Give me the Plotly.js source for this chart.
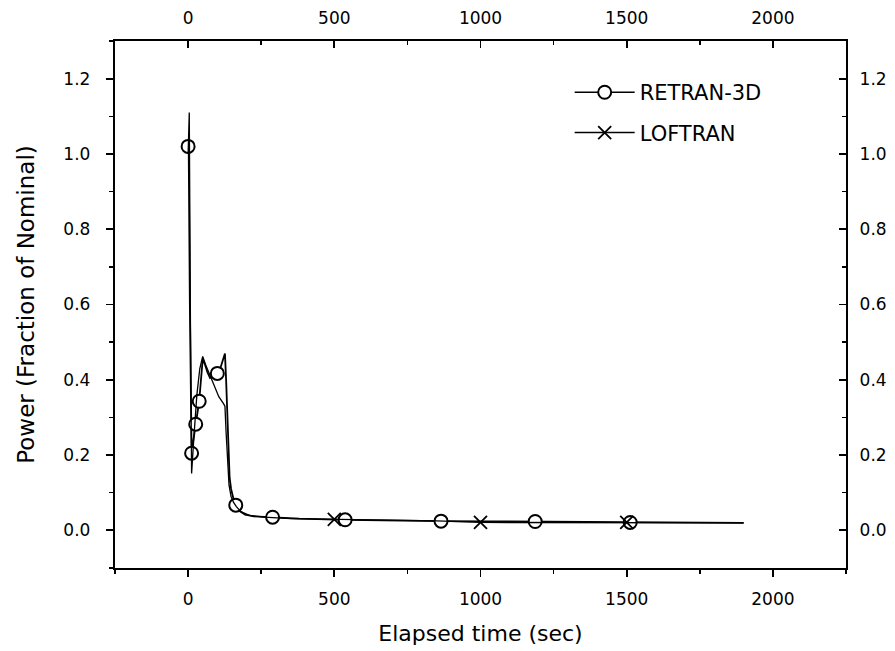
<!DOCTYPE html>
<html>
<head>
<meta charset="utf-8">
<script src="https://cdn.plot.ly/plotly-3.0.1.min.js"></script>
<style>html,body{margin:0;padding:0;background:#fff;}#chart{width:895px;height:651px;}</style>
</head>
<body>
<div id="chart"></div>
<script>
// RETRAN-3D power history (time in s, power as fraction of nominal)
var retranTime  = [0, 2, 6, 10, 12, 18, 26, 32, 38, 44, 50, 58, 66, 75, 85, 100, 110, 118, 126, 130, 134, 138, 142, 147, 152, 157, 163, 175, 195, 225, 260, 289, 380, 537, 700, 865, 1030, 1187, 1350, 1512, 1700, 1900];
var retranPower = [1.02, 1.02, 0.60, 0.25, 0.205, 0.24, 0.282, 0.31, 0.343, 0.40, 0.455, 0.44, 0.42, 0.405, 0.41, 0.417, 0.43, 0.45, 0.47, 0.40, 0.30, 0.20, 0.14, 0.11, 0.09, 0.078, 0.067, 0.052, 0.042, 0.037, 0.036, 0.035, 0.031, 0.028, 0.026, 0.0245, 0.024, 0.0235, 0.022, 0.021, 0.02, 0.02];
var retranMarkerTimes = [0, 12, 26, 38, 100, 163, 289, 537, 865, 1187, 1512];

// LOFTRAN power history
var loftranTime  = [0, 4, 8, 12, 20, 30, 40, 50, 60, 75, 90, 105, 120, 126, 130, 135, 140, 147, 155, 165, 180, 210, 260, 350, 500, 700, 850, 1000, 1200, 1500, 1700, 1900];
var loftranPower = [1.0, 1.11, 0.55, 0.151, 0.25, 0.36, 0.43, 0.462, 0.44, 0.41, 0.38, 0.355, 0.338, 0.33, 0.26, 0.18, 0.12, 0.09, 0.075, 0.063, 0.05, 0.04, 0.035, 0.031, 0.029, 0.027, 0.025, 0.021, 0.021, 0.021, 0.02, 0.02];
var loftranMarkerTimes = [500, 1000, 1500];

var seriesNames = ['RETRAN-3D', 'LOFTRAN'];
var xTickVals = [0, 500, 1000, 1500, 2000];
var yTickVals = [0.0, 0.2, 0.4, 0.6, 0.8, 1.0, 1.2];
var xTitle = 'Elapsed time (sec)';
var yTitle = 'Power (Fraction of Nominal)';

var FONT = 'DejaVu Sans, Arial, sans-serif';

// marker-only points, separated by gaps so no connecting line is drawn in the plot
function markerPoints(times, values, marks) {
  var xs = [], ys = [];
  times.forEach(function (t, i) {
    if (marks.indexOf(t) >= 0) { xs.push(t, null); ys.push(values[i], null); }
  });
  return {x: xs, y: ys};
}
var rm = markerPoints(retranTime, retranPower, retranMarkerTimes);
var lm = markerPoints(loftranTime, loftranPower, loftranMarkerTimes);

var traces = [
  {
    x: retranTime, y: retranPower, name: seriesNames[0], legendgroup: 'a', showlegend: false,
    type: 'scatter', mode: 'lines', xaxis: 'x', yaxis: 'y',
    line: {color: '#000', width: 1.8}
  },
  {
    x: loftranTime, y: loftranPower, name: seriesNames[1], legendgroup: 'b', showlegend: false,
    type: 'scatter', mode: 'lines', xaxis: 'x2', yaxis: 'y2',
    line: {color: '#000', width: 1.3}
  },
  {
    x: rm.x, y: rm.y, name: seriesNames[0], legendgroup: 'a', connectgaps: false,
    type: 'scatter', mode: 'lines+markers', xaxis: 'x', yaxis: 'y',
    line: {color: '#000', width: 1.6},
    marker: {symbol: 'circle', color: '#fff', size: 13, line: {color: '#000', width: 2}}
  },
  {
    x: lm.x, y: lm.y, name: seriesNames[1], legendgroup: 'b', connectgaps: false,
    type: 'scatter', mode: 'lines+markers', xaxis: 'x2', yaxis: 'y2',
    line: {color: '#000', width: 1.6},
    marker: {symbol: 'x-thin-open', color: '#000', size: 13, line: {color: '#000', width: 1.8}}
  }
];

var common = {
  showgrid: false, zeroline: false, showline: true, linecolor: '#000', linewidth: 2.2,
  tickcolor: '#000', tickwidth: 1.8, ticklen: 7,
  tickfont: {family: FONT, size: 17, color: '#000'}
};
function ax(extra) { return Object.assign({}, common, extra); }
function ylabels(v) { return v.toFixed(1); }

var layout = {
  width: 895, height: 651,
  margin: {l: 115, r: 49, t: 41, b: 83},
  paper_bgcolor: '#fff', plot_bgcolor: '#fff',
  font: {family: FONT, color: '#000'},
  showlegend: true,
  legend: {x: 0.622, y: 0.941, xanchor: 'left', yanchor: 'top', bgcolor: 'rgba(0,0,0,0)',
           font: {family: FONT, size: 21, color: '#000'},
           itemwidth: 60, tracegroupgap: 10, traceorder: 'grouped'},
  xaxis: ax({range: [-250, 2250], tickvals: xTickVals, ticktext: xTickVals.map(String), ticks: 'outside',
             ticklabelstandoff: 7,
             minor: {dtick: 250, tick0: 0, ticks: 'outside', ticklen: 4, tickcolor: '#000', tickwidth: 1.5},
             title: {text: xTitle, font: {family: FONT, size: 22, color: '#000'}, standoff: 18}}),
  xaxis2: ax({range: [-250, 2250], tickvals: xTickVals, ticktext: xTickVals.map(String), ticks: 'inside',
              overlaying: 'x', side: 'top', anchor: 'y2', ticklabelstandoff: 8,
              minor: {dtick: 250, tick0: 0, ticks: 'inside', ticklen: 4, tickcolor: '#000', tickwidth: 1.5}}),
  yaxis: ax({range: [-0.1, 1.3], tickvals: yTickVals, ticktext: yTickVals.map(ylabels),
             ticks: 'outside', ticklabelstandoff: 12,
             minor: {dtick: 0.1, tick0: 0, ticks: 'outside', ticklen: 4, tickcolor: '#000', tickwidth: 1.5},
             title: {text: yTitle, font: {family: FONT, size: 23, color: '#000'}, standoff: 22}}),
  yaxis2: ax({range: [-0.1, 1.3], tickvals: yTickVals, ticktext: yTickVals.map(ylabels),
              ticks: 'inside', overlaying: 'y', side: 'right', anchor: 'x2', ticklabelstandoff: 8,
              minor: {dtick: 0.1, tick0: 0, ticks: 'inside', ticklen: 4, tickcolor: '#000', tickwidth: 1.5}})
};

Plotly.newPlot('chart', traces, layout, {displayModeBar: false, staticPlot: true});
</script>
</body>
</html>
